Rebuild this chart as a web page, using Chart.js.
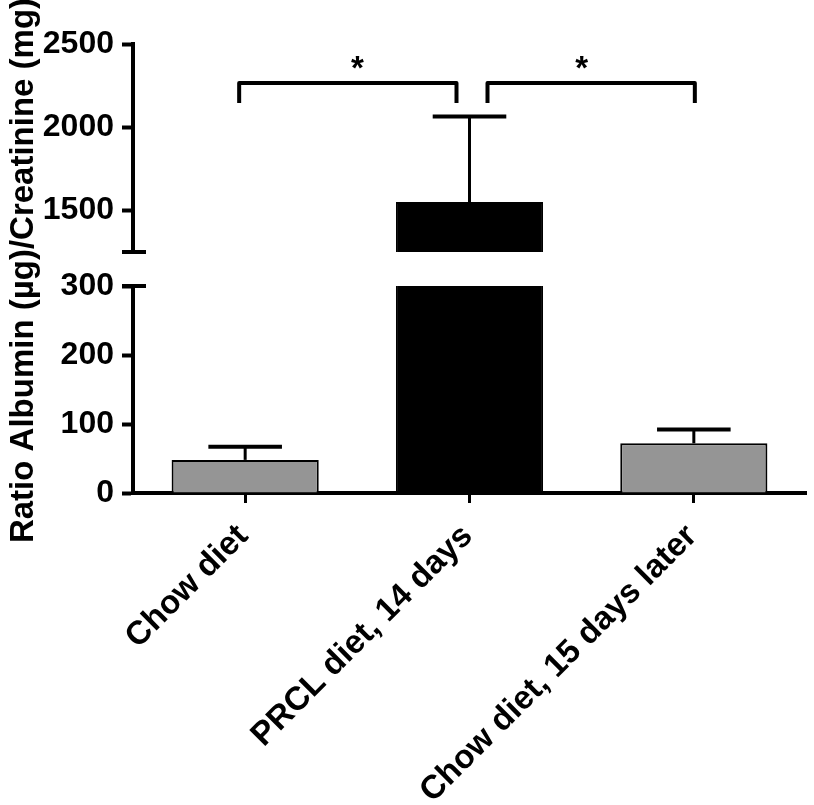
<!DOCTYPE html>
<html>
<head>
<meta charset="utf-8">
<script src="https://cdn.jsdelivr.net/npm/chart.js@4/dist/chart.umd.min.js"></script>
<style>
html, body { margin: 0; padding: 0; background: #ffffff; }
canvas { display: block; }
</style>
</head>
<body>
<canvas id="chart" width="814" height="805"></canvas>
<script>
// ---- data ----
const categories = ['Chow diet', 'PRCL diet, 14 days', 'Chow diet, 15 days later'];
const meanValues = [48, 1550, 72];
const errorValues = [19, 515, 20];
const lowerTicks = [0, 100, 200, 300];
const upperTicks = [1500, 2000, 2500];
const lowerRange = [0, 300];
const upperRange = [1250, 2500];
const comparisonPairs = [[0, 1], [1, 2]];
const comparisonLevels = [2265, 2265];
const comparisonLabels = ['*', '*'];
const yAxisTitle = 'Ratio Albumin (µg)/Creatinine (mg)';

// ---- style ----
const FONT = '"Liberation Sans", Arial, Helvetica, sans-serif';
const barColors = ['#959595', '#000000', '#959595'];
const bracketOffsets = [[-6, -13], [18, 1]];
const bracketLeg = 20;

Chart.defaults.font.family = FONT;
Chart.defaults.color = '#000000';

function line(ctx, x1, y1, x2, y2) {
  ctx.beginPath(); ctx.moveTo(x1, y1); ctx.lineTo(x2, y2); ctx.stroke();
}

const segmentClip = {
  id: 'segmentClip',
  beforeDatasetDraw(chart, args) {
    const s = args.meta.yScale, a = chart.chartArea, ctx = chart.ctx;
    const bottom = s.bottom >= a.bottom - 1 ? a.bottom + 4 : s.bottom;
    ctx.save();
    ctx.beginPath();
    ctx.rect(a.left, s.top, a.right - a.left, bottom - s.top);
    ctx.clip();
  },
  afterDatasetDraw(chart) { chart.ctx.restore(); }
};

const decorations = {
  id: 'decorations',
  afterDraw(chart) {
    const ctx = chart.ctx, a = chart.chartArea;
    const lo = chart.scales.yLow, hi = chart.scales.yHigh, x = chart.scales.x;
    const bars = chart.getDatasetMeta(0).data;
    ctx.save();
    ctx.strokeStyle = '#000'; ctx.fillStyle = '#000';
    ctx.lineCap = 'butt';
    // error bars
    meanValues.forEach((m, i) => {
      const top = m + errorValues[i];
      const s = top <= lo.max ? lo : hi;
      const bx = bars[i].x, half = bars[i].width / 4;
      const y0 = s.getPixelForValue(Math.max(m, s.min));
      const y1 = s.getPixelForValue(top);
      ctx.lineWidth = 3; line(ctx, bx, y0, bx, y1);
      ctx.lineWidth = 4; line(ctx, bx - half, y1, bx + half, y1);
    });
    // axis break caps
    ctx.lineWidth = 4;
    const axX = a.left;
    line(ctx, axX - 11, lo.getPixelForValue(lo.max), axX + 13, lo.getPixelForValue(lo.max));
    line(ctx, axX - 11, hi.getPixelForValue(hi.min), axX + 13, hi.getPixelForValue(hi.min));
    // significance brackets
    ctx.lineJoin = 'round';
    comparisonPairs.forEach((p, k) => {
      const x1 = x.getPixelForValue(p[0]) + bracketOffsets[k][0];
      const x2 = x.getPixelForValue(p[1]) + bracketOffsets[k][1];
      const y = hi.getPixelForValue(comparisonLevels[k]);
      ctx.beginPath();
      ctx.moveTo(x1, y + bracketLeg); ctx.lineTo(x1, y); ctx.lineTo(x2, y); ctx.lineTo(x2, y + bracketLeg);
      ctx.stroke();
      const cx = (x.getPixelForValue(p[0]) + x.getPixelForValue(p[1])) / 2;
      ctx.font = 'bold 33px ' + FONT;
      ctx.textAlign = 'center'; ctx.textBaseline = 'alphabetic';
      ctx.fillText(comparisonLabels[k], cx, y - 4);
    });
    // y axis title
    ctx.translate(33, (lo.bottom + hi.top) / 2 + 2);
    ctx.rotate(-Math.PI / 2);
    ctx.font = 'bold 33px ' + FONT;
    ctx.textAlign = 'center'; ctx.textBaseline = 'alphabetic';
    ctx.fillText(yAxisTitle, 0, 0);
    ctx.restore();
  }
};

const yCommon = {
  type: 'linear', position: 'left', stack: 'yaxis', stacked: false,
  grid: { display: true, drawOnChartArea: false, drawTicks: true, tickLength: 11, tickWidth: 4, tickColor: '#000' },
  border: { display: true, color: '#000', width: 4 },
  ticks: { font: { size: 32, weight: 'bold' }, color: '#000', padding: 8, callback: v => String(v) },
  afterFit(s) { s.width = 133; }
};

new Chart(document.getElementById('chart'), {
  type: 'bar',
  data: {
    labels: categories,
    datasets: [
      { data: meanValues, yAxisID: 'yLow', stack: 'g', backgroundColor: barColors, borderColor: '#000', borderWidth: 2,
        barPercentage: 0.656, categoryPercentage: 1.0 },
      { data: meanValues, yAxisID: 'yHigh', stack: 'g', backgroundColor: barColors, borderColor: '#000', borderWidth: 2,
        barPercentage: 0.656, categoryPercentage: 1.0 }
    ]
  },
  options: {
    responsive: false,
    animation: false,
    devicePixelRatio: 1,
    layout: { padding: { top: 44, right: 8, left: 0, bottom: 0 } },
    plugins: { legend: { display: false }, tooltip: { enabled: false } },
    scales: {
      x: {
        type: 'category', stacked: true, offset: true,
        grid: { display: true, drawOnChartArea: false, drawTicks: true, tickLength: 10, tickWidth: 3, tickColor: '#000', offset: false },
        border: { display: true, color: '#000', width: 4 },
        ticks: { font: { size: 33, weight: 'bold' }, color: '#000', minRotation: 45, maxRotation: 45, autoSkip: false, padding: 14, labelOffset: -2 },
        afterFit(s) { s.height = 312; }
      },
      yLow: Object.assign({}, yCommon, {
        stackWeight: 207, min: lowerRange[0], max: lowerRange[1],
        afterBuildTicks(s) { s.ticks = lowerTicks.map(v => ({ value: v })); }
      }),
      yGap: {
        type: 'linear', position: 'left', stack: 'yaxis', stackWeight: 34, min: 0, max: 1, display: true,
        grid: { display: false }, border: { display: false }, ticks: { display: false },
        afterFit(s) { s.width = 133; }
      },
      yHigh: Object.assign({}, yCommon, {
        stackWeight: 208, min: upperRange[0], max: upperRange[1],
        afterBuildTicks(s) { s.ticks = upperTicks.map(v => ({ value: v })); }
      })
    }
  },
  plugins: [segmentClip, decorations]
});
</script>
</body>
</html>
